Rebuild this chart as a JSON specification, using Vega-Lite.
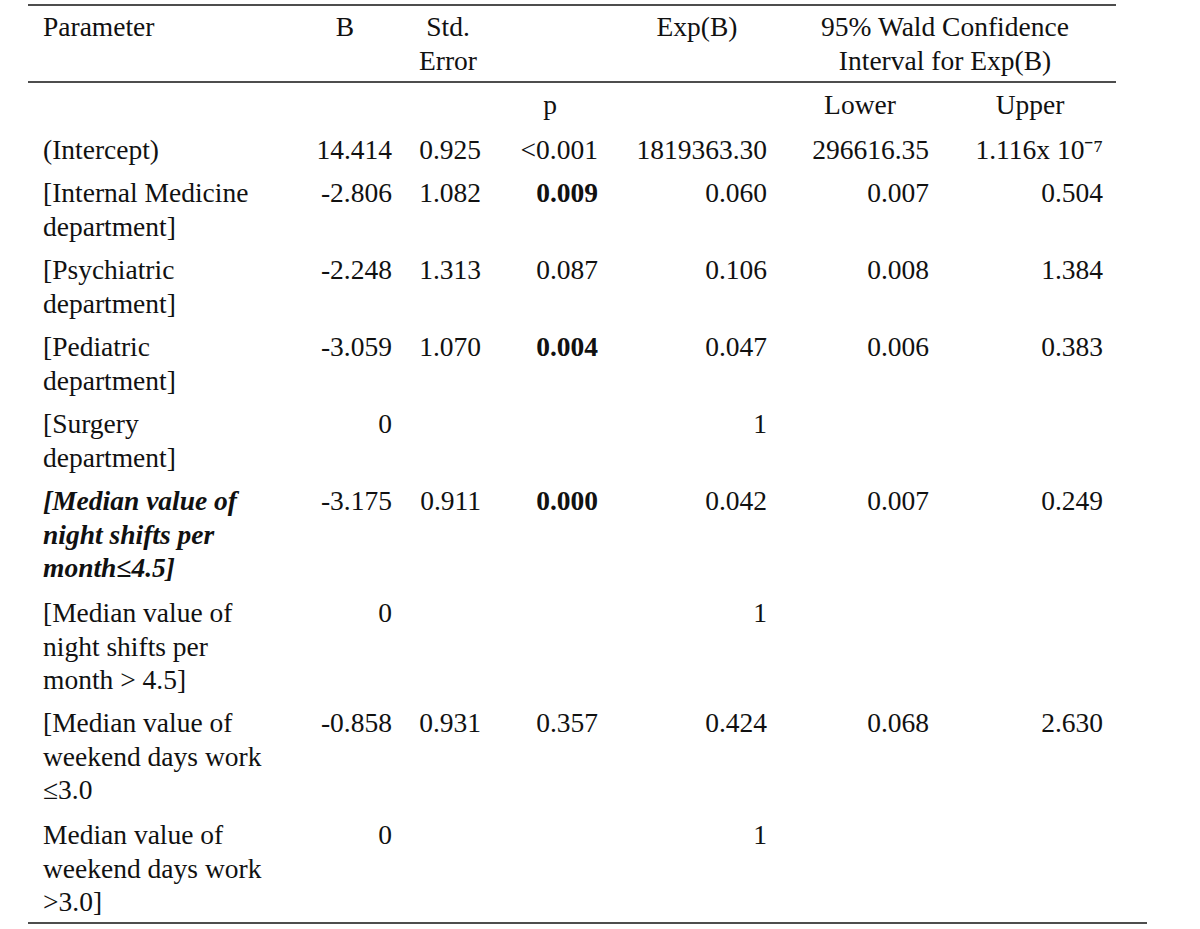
{
  "$schema": "https://vega.github.io/schema/vega-lite/v6.json",
  "width": 1200,
  "height": 929,
  "autosize": {"type": "none"},
  "padding": 0,
  "background": "white",
  "config": {"view": {"stroke": null}},
  "data": {
    "values": [
      {"row": 0, "c": 0, "kind": "param", "emph": false, "v": "Parameter"},
      {"row": 0, "c": 1, "kind": "head", "emph": false, "v": "B"},
      {"row": 0, "c": 2, "kind": "head", "emph": false, "v": "Std.\nError"},
      {"row": 0, "c": 4, "kind": "head", "emph": false, "v": "Exp(B)"},
      {"row": 0, "c": 5.5, "kind": "head", "emph": false, "v": "95% Wald Confidence\nInterval for Exp(B)"},
      {"row": 1, "c": 3, "kind": "head", "emph": false, "v": "p"},
      {"row": 1, "c": 5, "kind": "head", "emph": false, "v": "Lower"},
      {"row": 1, "c": 6, "kind": "head", "emph": false, "v": "Upper"},

      {"row": 2, "c": 0, "kind": "param", "emph": false, "v": "(Intercept)"},
      {"row": 2, "c": 1, "kind": "value", "emph": false, "v": "14.414"},
      {"row": 2, "c": 2, "kind": "value", "emph": false, "v": "0.925"},
      {"row": 2, "c": 3, "kind": "value", "emph": false, "v": "<0.001"},
      {"row": 2, "c": 4, "kind": "value", "emph": false, "v": "1819363.30"},
      {"row": 2, "c": 5, "kind": "value", "emph": false, "v": "296616.35"},
      {"row": 2, "c": 6, "kind": "value", "emph": false, "v": "1.116x 10⁻⁷"},

      {"row": 3, "c": 0, "kind": "param", "emph": false, "v": "[Internal Medicine\ndepartment]"},
      {"row": 3, "c": 1, "kind": "value", "emph": false, "v": "-2.806"},
      {"row": 3, "c": 2, "kind": "value", "emph": false, "v": "1.082"},
      {"row": 3, "c": 3, "kind": "value", "emph": true, "v": "0.009"},
      {"row": 3, "c": 4, "kind": "value", "emph": false, "v": "0.060"},
      {"row": 3, "c": 5, "kind": "value", "emph": false, "v": "0.007"},
      {"row": 3, "c": 6, "kind": "value", "emph": false, "v": "0.504"},

      {"row": 4, "c": 0, "kind": "param", "emph": false, "v": "[Psychiatric\ndepartment]"},
      {"row": 4, "c": 1, "kind": "value", "emph": false, "v": "-2.248"},
      {"row": 4, "c": 2, "kind": "value", "emph": false, "v": "1.313"},
      {"row": 4, "c": 3, "kind": "value", "emph": false, "v": "0.087"},
      {"row": 4, "c": 4, "kind": "value", "emph": false, "v": "0.106"},
      {"row": 4, "c": 5, "kind": "value", "emph": false, "v": "0.008"},
      {"row": 4, "c": 6, "kind": "value", "emph": false, "v": "1.384"},

      {"row": 5, "c": 0, "kind": "param", "emph": false, "v": "[Pediatric\ndepartment]"},
      {"row": 5, "c": 1, "kind": "value", "emph": false, "v": "-3.059"},
      {"row": 5, "c": 2, "kind": "value", "emph": false, "v": "1.070"},
      {"row": 5, "c": 3, "kind": "value", "emph": true, "v": "0.004"},
      {"row": 5, "c": 4, "kind": "value", "emph": false, "v": "0.047"},
      {"row": 5, "c": 5, "kind": "value", "emph": false, "v": "0.006"},
      {"row": 5, "c": 6, "kind": "value", "emph": false, "v": "0.383"},

      {"row": 6, "c": 0, "kind": "param", "emph": false, "v": "[Surgery\ndepartment]"},
      {"row": 6, "c": 1, "kind": "value", "emph": false, "v": "0"},
      {"row": 6, "c": 4, "kind": "value", "emph": false, "v": "1"},

      {"row": 7, "c": 0, "kind": "param", "emph": true, "v": "[Median value of\nnight shifts per\nmonth≤4.5]"},
      {"row": 7, "c": 1, "kind": "value", "emph": false, "v": "-3.175"},
      {"row": 7, "c": 2, "kind": "value", "emph": false, "v": "0.911"},
      {"row": 7, "c": 3, "kind": "value", "emph": true, "v": "0.000"},
      {"row": 7, "c": 4, "kind": "value", "emph": false, "v": "0.042"},
      {"row": 7, "c": 5, "kind": "value", "emph": false, "v": "0.007"},
      {"row": 7, "c": 6, "kind": "value", "emph": false, "v": "0.249"},

      {"row": 8, "c": 0, "kind": "param", "emph": false, "v": "[Median value of\nnight shifts per\nmonth > 4.5]"},
      {"row": 8, "c": 1, "kind": "value", "emph": false, "v": "0"},
      {"row": 8, "c": 4, "kind": "value", "emph": false, "v": "1"},

      {"row": 9, "c": 0, "kind": "param", "emph": false, "v": "[Median value of\nweekend days work\n≤3.0"},
      {"row": 9, "c": 1, "kind": "value", "emph": false, "v": "-0.858"},
      {"row": 9, "c": 2, "kind": "value", "emph": false, "v": "0.931"},
      {"row": 9, "c": 3, "kind": "value", "emph": false, "v": "0.357"},
      {"row": 9, "c": 4, "kind": "value", "emph": false, "v": "0.424"},
      {"row": 9, "c": 5, "kind": "value", "emph": false, "v": "0.068"},
      {"row": 9, "c": 6, "kind": "value", "emph": false, "v": "2.630"},

      {"row": 10, "c": 0, "kind": "param", "emph": false, "v": "Median value of\nweekend days work\n>3.0]"},
      {"row": 10, "c": 1, "kind": "value", "emph": false, "v": "0"},
      {"row": 10, "c": 4, "kind": "value", "emph": false, "v": "1"}
    ]
  },
  "encoding": {
    "y": {
      "field": "row",
      "type": "quantitative",
      "axis": null,
      "scale": {
        "domain": [-0.5, 0, 0.5, 1, 2, 3, 4, 5, 6, 7, 8, 9, 10, 11],
        "range": [5, 36, 82, 114, 159, 202, 279, 356, 433, 510, 622, 732, 844, 923],
        "zero": false,
        "nice": false
      }
    }
  },
  "layer": [
    {
      "data": {
        "values": [
          {"row": -0.5, "from": 0, "to": 1},
          {"row": 0.5, "from": 0, "to": 1},
          {"row": 11, "from": 0, "to": 2}
        ]
      },
      "mark": {"type": "rule", "stroke": "#4d4d4d", "strokeWidth": 2},
      "encoding": {
        "x": {
          "field": "from",
          "type": "quantitative",
          "axis": null,
          "scale": {"domain": [0, 1, 2], "range": [28, 1116, 1147], "zero": false, "nice": false}
        },
        "x2": {"field": "to"}
      }
    },
    {
      "transform": [{"filter": "datum.kind == 'param' && !datum.emph"}],
      "mark": {"type": "text", "align": "left", "baseline": "alphabetic", "font": "Liberation Serif", "fontSize": 27.5, "lineHeight": 33.5, "lineBreak": "\n", "color": "#111111"},
      "encoding": {
        "x": {"field": "c", "type": "quantitative", "axis": null, "scale": {"domain": [0, 6], "range": [43, 1103], "zero": false, "nice": false}},
        "text": {"field": "v", "type": "nominal"}
      }
    },
    {
      "transform": [{"filter": "datum.kind == 'param' && datum.emph"}],
      "mark": {"type": "text", "align": "left", "baseline": "alphabetic", "font": "Liberation Serif", "fontSize": 27.5, "fontWeight": "bold", "fontStyle": "italic", "lineHeight": 33.5, "lineBreak": "\n", "color": "#111111"},
      "encoding": {
        "x": {"field": "c", "type": "quantitative", "axis": null, "scale": {"domain": [0, 6], "range": [43, 1103], "zero": false, "nice": false}},
        "text": {"field": "v", "type": "nominal"}
      }
    },
    {
      "transform": [{"filter": "datum.kind == 'value' && !datum.emph"}],
      "mark": {"type": "text", "align": "right", "baseline": "alphabetic", "font": "Liberation Serif", "fontSize": 27.5, "lineHeight": 33.5, "lineBreak": "\n", "color": "#111111"},
      "encoding": {
        "x": {"field": "c", "type": "quantitative", "axis": null, "scale": {"domain": [1, 2, 3, 4, 5, 6], "range": [392, 481, 598, 767, 929, 1103], "zero": false, "nice": false}},
        "text": {"field": "v", "type": "nominal"}
      }
    },
    {
      "transform": [{"filter": "datum.kind == 'value' && datum.emph"}],
      "mark": {"type": "text", "align": "right", "baseline": "alphabetic", "font": "Liberation Serif", "fontSize": 27.5, "fontWeight": "bold", "lineHeight": 33.5, "lineBreak": "\n", "color": "#111111"},
      "encoding": {
        "x": {"field": "c", "type": "quantitative", "axis": null, "scale": {"domain": [1, 2, 3, 4, 5, 6], "range": [392, 481, 598, 767, 929, 1103], "zero": false, "nice": false}},
        "text": {"field": "v", "type": "nominal"}
      }
    },
    {
      "transform": [{"filter": "datum.kind == 'head'"}],
      "mark": {"type": "text", "align": "center", "baseline": "alphabetic", "font": "Liberation Serif", "fontSize": 27.5, "lineHeight": 33.5, "lineBreak": "\n", "color": "#111111"},
      "encoding": {
        "x": {"field": "c", "type": "quantitative", "axis": null, "scale": {"domain": [1, 2, 3, 4, 5, 6], "range": [345, 448, 550, 697, 860, 1030], "zero": false, "nice": false}},
        "text": {"field": "v", "type": "nominal"}
      }
    }
  ],
  "resolve": {"scale": {"x": "independent"}}
}
